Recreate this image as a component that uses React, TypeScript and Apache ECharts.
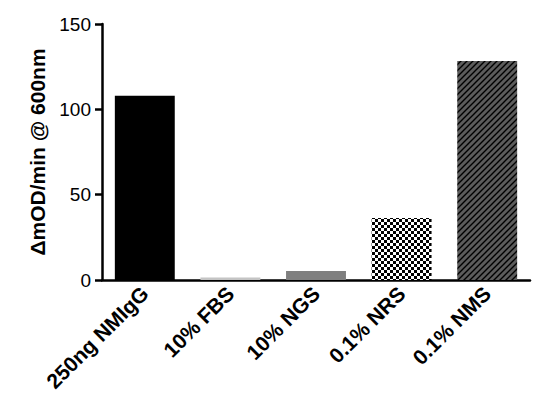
import React, { useEffect, useRef } from "react";
import * as echarts from "echarts";

const categories = ["250ng NMIgG", "10% FBS", "10% NGS", "0.1% NRS", "0.1% NMS"];
const values = [108, 1.5, 5.3, 36.3, 128.3];
const yTicks = { min: 0, max: 150, interval: 50 };

function checkerPattern() {
  const c = document.createElement("canvas");
  c.width = 6;
  c.height = 6;
  const ctx = c.getContext("2d")!;
  ctx.fillStyle = "#ffffff";
  ctx.fillRect(0, 0, 6, 6);
  ctx.fillStyle = "#000000";
  ctx.fillRect(0, 0, 3, 3);
  ctx.fillRect(3, 3, 3, 3);
  return { image: c.toDataURL(), imageWidth: 6, imageHeight: 6, repeat: "repeat" };
}

function stripePattern() {
  const s = 6;
  const c = document.createElement("canvas");
  c.width = s;
  c.height = s;
  const ctx = c.getContext("2d")!;
  ctx.fillStyle = "#5c5c5c";
  ctx.fillRect(0, 0, s, s);
  ctx.strokeStyle = "#000000";
  ctx.lineWidth = 1.4;
  ctx.beginPath();
  ctx.moveTo(-1, s + 1);
  ctx.lineTo(s + 1, -1);
  ctx.moveTo(-2, 2);
  ctx.lineTo(2, -2);
  ctx.moveTo(s - 2, s + 2);
  ctx.lineTo(s + 2, s - 2);
  ctx.stroke();
  return { image: c.toDataURL(), imageWidth: s, imageHeight: s, repeat: "repeat" };
}

export default function App() {
  const ref = useRef<HTMLDivElement>(null);
  useEffect(() => {
    document.body.style.margin = "0";
    const chart = echarts.init(ref.current!, undefined, { renderer: "svg" });
    const fills: any[] = ["#000000", "#c4c4c4", "#7f7f7f", checkerPattern(), stripePattern()];
    const font = "'Liberation Sans', Arial, Helvetica, sans-serif";
    chart.setOption({
      animation: false,
      backgroundColor: "#ffffff",
      grid: { left: 102, right: 24, top: 24, bottom: 118 },
      xAxis: {
        type: "category",
        data: categories,
        axisLine: { lineStyle: { color: "#000", width: 2.5 } },
        axisTick: { alignWithLabel: true, length: 7, lineStyle: { color: "#000", width: 2.5 } },
        axisLabel: {
          rotate: 45,
          margin: 10,
          color: "#000",
          fontSize: 21,
          fontWeight: "bold",
          fontFamily: font,
        },
      },
      yAxis: {
        type: "value",
        min: yTicks.min,
        max: yTicks.max,
        interval: yTicks.interval,
        name: "\u0394mOD/min @ 600nm",
        nameLocation: "middle",
        nameGap: 50,
        nameTextStyle: { color: "#000", fontSize: 21, fontWeight: "bold", fontFamily: font },
        axisLine: { show: true, lineStyle: { color: "#000", width: 2.5 } },
        axisTick: { show: true, length: 7, lineStyle: { color: "#000", width: 2.5 } },
        splitLine: { show: false },
        axisLabel: { color: "#000", fontSize: 19, margin: 11, fontFamily: font },
      },
      series: [
        {
          type: "bar",
          barWidth: "70%",
          data: values.map((v, i) => ({ value: v, itemStyle: { color: fills[i] } })),
        },
      ],
    });
    return () => chart.dispose();
  }, []);
  return <div ref={ref} style={{ width: 554, height: 398 }} />;
}
